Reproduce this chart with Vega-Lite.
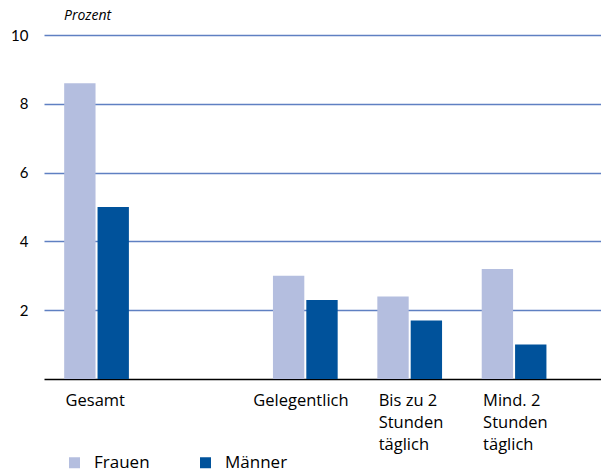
{
  "$schema": "https://vega.github.io/schema/vega-lite/v6.json",
  "autosize": {"type": "none"},
  "width": 557,
  "height": 344,
  "padding": {"left": 44, "top": 35, "right": 0, "bottom": 94},
  "background": "white",
  "title": {"text": "Prozent", "anchor": "start", "frame": "group", "dx": 20, "offset": 5, "font": "Open Sans", "fontStyle": "italic", "fontWeight": "normal", "fontSize": 14, "color": "#000000"},
  "data": {"values": [
    {"kategorie": "Gesamt", "geschlecht": "Frauen", "wert": 8.6},
    {"kategorie": "Gesamt", "geschlecht": "Männer", "wert": 5.0},
    {"kategorie": "Gelegentlich", "geschlecht": "Frauen", "wert": 3.0},
    {"kategorie": "Gelegentlich", "geschlecht": "Männer", "wert": 2.3},
    {"kategorie": "Bis zu 2 Stunden täglich", "geschlecht": "Frauen", "wert": 2.4},
    {"kategorie": "Bis zu 2 Stunden täglich", "geschlecht": "Männer", "wert": 1.7},
    {"kategorie": "Mind. 2 Stunden täglich", "geschlecht": "Frauen", "wert": 3.2},
    {"kategorie": "Mind. 2 Stunden täglich", "geschlecht": "Männer", "wert": 1.0}
  ]},
  "mark": {"type": "bar"},
  "encoding": {
    "x": {
      "field": "kategorie",
      "type": "nominal",
      "scale": {"domain": ["Gesamt", " ", "Gelegentlich", "Bis zu 2 Stunden täglich", "Mind. 2 Stunden täglich"], "paddingInner": 0.38, "paddingOuter": 0.358, "align": 0.27},
      "axis": {
        "title": null,
        "domainColor": "#000000",
        "domainWidth": 1.5,
        "ticks": false,
        "labelAngle": 0,
        "labelAlign": "left",
        "labelBaseline": "top",
        "labelOffset": {"condition": {"test": "datum.value == 'Gelegentlich'", "value": -52}, "value": -31},
        "labelPadding": 13,
        "labelFont": "Open Sans",
        "labelFontSize": 16.5,
        "labelColor": "#000000",
        "labelLineHeight": 22,
        "labelLimit": 200,
        "labelExpr": "datum.value == 'Bis zu 2 Stunden täglich' ? ['Bis zu 2', 'Stunden', 'täglich'] : datum.value == 'Mind. 2 Stunden täglich' ? ['Mind. 2', 'Stunden', 'täglich'] : datum.value"
      }
    },
    "xOffset": {"field": "geschlecht", "type": "nominal", "scale": {"paddingInner": 0.06}},
    "y": {
      "field": "wert",
      "type": "quantitative",
      "scale": {"domain": [0, 10], "nice": false},
      "axis": {
        "title": null,
        "values": [2, 4, 6, 8, 10],
        "domain": false,
        "ticks": false,
        "grid": true,
        "gridColor": "#5f80c2",
        "gridWidth": 1.5,
        "labelPadding": 16,
        "labelFont": "Lato",
        "labelFontSize": 15,
        "labelColor": "#000000"
      }
    },
    "color": {
      "field": "geschlecht",
      "type": "nominal",
      "scale": {"domain": ["Frauen", "Männer"], "range": ["#b4bedf", "#00529b"]},
      "legend": {
        "title": null,
        "orient": "none",
        "legendX": 22,
        "legendY": 419,
        "direction": "horizontal",
        "symbolType": "square",
        "symbolSize": 121,
        "symbolStrokeWidth": 0,
        "labelFont": "Open Sans",
        "labelFontSize": 17,
        "labelColor": "#000000",
        "labelOffset": 11,
        "columnPadding": 47
      }
    }
  },
  "config": {"view": {"stroke": null}}
}
